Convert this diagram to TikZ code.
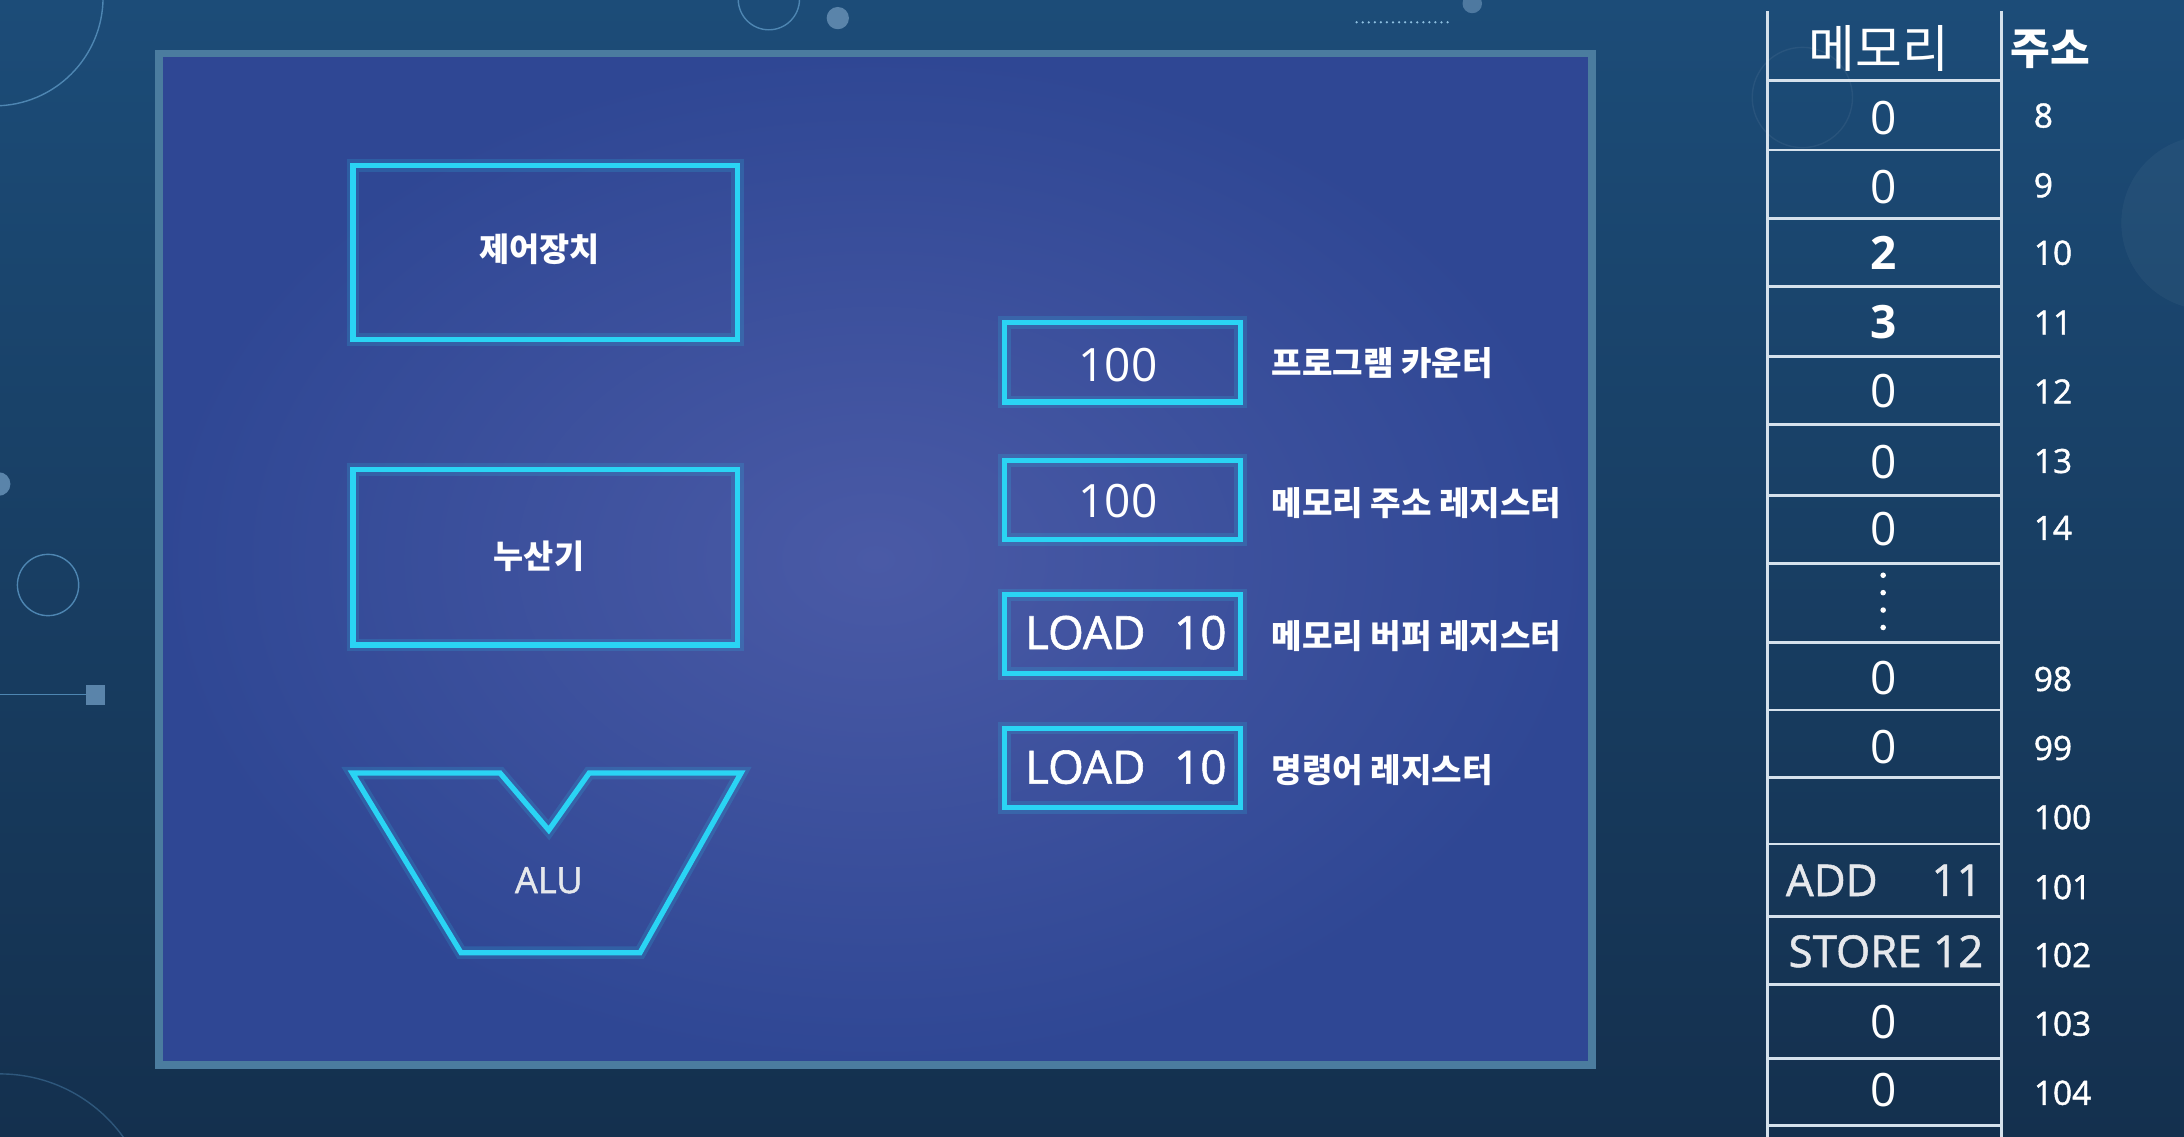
\documentclass[tikz,border=0pt]{standalone}
\usepackage{fontspec}
\setmainfont{Open Sans}
\newfontfamily\kr{Noto Sans CJK KR}
\newfontfamily\osmed[UprightFeatures={FakeBold=1.2}]{Open Sans}
\definecolor{bgtop}{HTML}{1C4C78}
\definecolor{bgbot}{HTML}{14304E}
\definecolor{panelin}{HTML}{4A5AA6}
\definecolor{panelout}{HTML}{2F4794}
\definecolor{panelborder}{HTML}{4B7C9F}
\definecolor{cyanc}{HTML}{2AD4F4}
\definecolor{memline}{HTML}{D5E1EC}
\definecolor{deco}{HTML}{4E86B2}
\definecolor{decofill}{HTML}{5A84AA}
\definecolor{dotc}{HTML}{8EC0E0}
\definecolor{softwhite}{HTML}{E6E8EC}
\begin{document}
\begin{tikzpicture}[x=1pt,y=-1pt,
  glow/.style={preaction={draw=cyanc, line width=9pt, draw opacity=0.16}},
  cbox/.style={draw=cyanc, line width=3.8pt, glow, inner sep=0pt},
  cyanline/.style={draw=cyanc, line width=3.8pt, glow, line join=miter},
  txt/.style={text=white, inner sep=0pt},
  boxtxt/.style={txt, font=\kr\bfseries\fontsize{23.5pt}{26pt}\selectfont},
  alutxt/.style={inner sep=0pt, text=softwhite, font=\osmed\fontsize{26pt}{30pt}\selectfont},
  regval/.style={txt, font=\fontsize{33pt}{36pt}\selectfont},
  regload/.style={txt, font=\osmed\fontsize{33pt}{36pt}\selectfont},
  reglab/.style={txt, anchor=west, font=\kr\bfseries\fontsize{23.8pt}{26pt}\selectfont},
  mline/.style={draw=memline, line width=2pt},
  memval/.style={txt, font=\fontsize{33pt}{36pt}\selectfont},
  memins/.style={inner sep=0pt, text=softwhite, font=\osmed\fontsize{31.5pt}{34pt}\selectfont},
  addr/.style={txt, anchor=west, font=\osmed\fontsize{24pt}{28pt}\selectfont},
  decoline/.style={draw=deco, line width=1pt}
]
\useasboundingbox (0,0) rectangle (1568,816);
% background
\shade[top color=bgtop, bottom color=bgbot] (0,0) rectangle (1568,816);
% decorations
\draw[decoline] (-4,-2) circle[radius=78];
\draw[decoline] (552,-0.6) circle[radius=22];
\fill[decofill] (601.5,13) circle[radius=8];
\foreach \i in {0,...,15} \fill[dotc] ({974+\i*4.35},16) circle[radius=0.9];
\fill[decofill!80!bgtop] (1057,2.5) circle[radius=7];
\fill[decofill] (-1,347.5) circle[radius=8.5];
\draw[decoline] (34.5,420) circle[radius=22];
\draw[decoline] (0,498.7) -- (62,498.7);
\fill[decofill] (61.5,492) rectangle (75.6,506);
\draw[decoline, draw opacity=0.45] (0,880) circle[radius=109];
\fill[white, fill opacity=0.04] (1585.5,160) circle[radius=62.5];
\draw[white, draw opacity=0.06, line width=1pt] (1294,70) circle[radius=36];
% main panel
\path[draw=panelborder, line width=5.5pt, inner color=panelin, outer color=panelout] (114,38.5) rectangle (1143,764.5);
% control unit
\node[cbox, minimum width=276pt, minimum height=125pt] (cubox) at (391.5,181.4) {};
\node[boxtxt] (cu) at (387.4,178.6) {제어장치};
% accumulator
\node[cbox, minimum width=276pt, minimum height=126pt] (accbox) at (391.5,400) {};
\node[boxtxt] (acc) at (387,399) {누산기};
% ALU
\draw[cyanline] (253,555) -- (359,555) -- (394,596) -- (423,555) -- (532,555) -- (459.5,684) -- (331,684) -- cycle;
\node[alutxt] (alu) at (394,632) {ALU};
% registers
\node[cbox, minimum width=169.6pt, minimum height=57pt] (pc) at (805.8,260.2) {};
\node[regval] (pcv) at (802.6,262) {100};
\node[reglab] (pcl) at (912.7,261) {프로그램 카운터};
\node[cbox, minimum width=169.6pt, minimum height=57pt] (mar) at (805.8,359) {};
\node[regval] (marv) at (802.6,359.4) {100};
\node[reglab] (marl) at (912.7,361) {메모리 주소 레지스터};
\node[cbox, minimum width=169.6pt, minimum height=56.5pt] (mbr) at (805.8,455.3) {};
\node[regload] (mbrv) at (808.3,454.2) {LOAD\hspace{0.62em}10};
\node[reglab] (mbrl) at (912.7,457) {메모리 버퍼 레지스터};
\node[cbox, minimum width=169.6pt, minimum height=57pt] (ir) at (805.8,551.3) {};
\node[regload] (irv) at (808.3,550.8) {LOAD\hspace{0.62em}10};
\node[reglab] (irl) at (912.7,553) {명령어 레지스터};
% memory table
\draw[mline] (1269,8) -- (1269,816);
\draw[mline] (1437,8) -- (1437,816);
\foreach \y in {57.7,107.7,157,205.6,256,304.5,356,404.5,461,509.7,558,606,658,707,760,808}
  \draw[mline] (1269,\y) -- (1437,\y);
\node[txt, font=\kr\fontsize{36.5pt}{40pt}\selectfont] (memhead) at (1349,35) {메모리};
\node[txt, font=\kr\bfseries\fontsize{31pt}{34pt}\selectfont] (addrhead) at (1472,35.7) {주소};
% memory values
\node[memval] (v8) at (1352,85) {0};
\node[memval] (v9) at (1352,134) {0};
\node[memval, font=\bfseries\fontsize{33pt}{36pt}\selectfont] (v10) at (1352,181.5) {2};
\node[memval, font=\bfseries\fontsize{33pt}{36pt}\selectfont] (v11) at (1352,231) {3};
\node[memval] (v12) at (1352,280.5) {0};
\node[memval] (v13) at (1352,331.5) {0};
\node[memval] (v14) at (1352,380) {0};
\foreach \y in {413,425.5,438,450.5} \fill[white] (1352,\y) circle[radius=2];
\node[memval] (v98) at (1352,487) {0};
\node[memval] (v99) at (1352,536) {0};
\node[memins, anchor=west] (v101a) at (1282,632) {ADD};
\node[memins, anchor=east] (v101b) at (1423,632) {11};
\node[memins] (v102) at (1354,683) {STORE 12};
\node[memval] (v103) at (1352,734) {0};
\node[memval] (v104) at (1352,782.6) {0};
% addresses
\node[addr] (a8) at (1460,83) {8};
\node[addr] (a9) at (1460,133) {9};
\node[addr] (a10) at (1460,181.5) {10};
\node[addr] (a11) at (1460,231.6) {11};
\node[addr] (a12) at (1460,281) {12};
\node[addr] (a13) at (1460,331) {13};
\node[addr] (a14) at (1460,379) {14};
\node[addr] (a98) at (1460,487.5) {98};
\node[addr] (a99) at (1460,537) {99};
\node[addr] (a100) at (1460,586.7) {100};
\node[addr] (a101) at (1460,636.9) {101};
\node[addr] (a102) at (1460,685.7) {102};
\node[addr] (a103) at (1460,735) {103};
\node[addr] (a104) at (1460,784.6) {104};
\end{tikzpicture}
\end{document}
